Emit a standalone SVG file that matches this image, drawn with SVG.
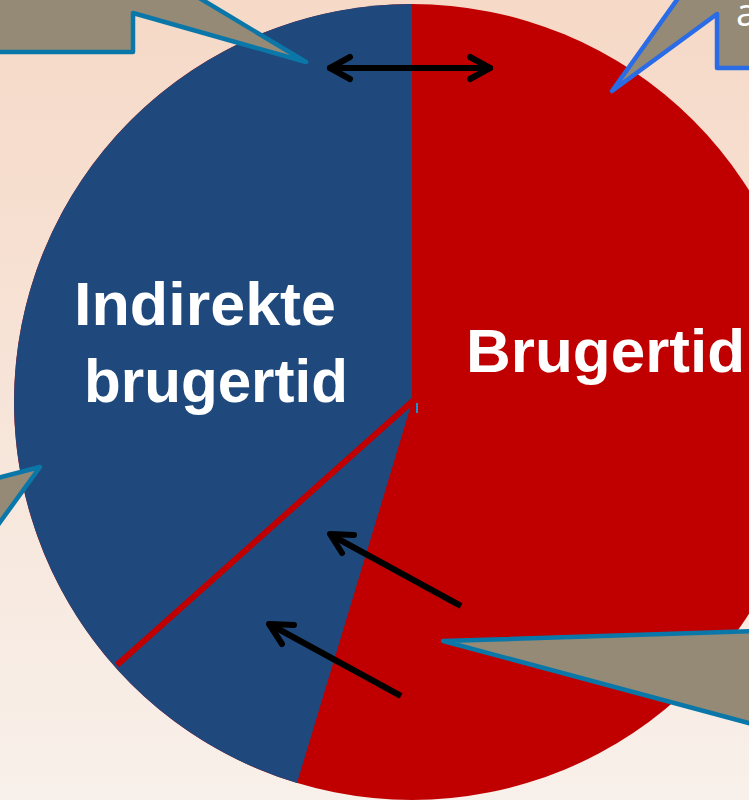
<svg xmlns="http://www.w3.org/2000/svg" width="749" height="800" viewBox="0 0 749 800">
<defs>
<linearGradient id="bg" x1="0" y1="0" x2="0" y2="1">
<stop offset="0" stop-color="#f6d9c7"/>
<stop offset="1" stop-color="#f8f0ea"/>
</linearGradient>
</defs>
<style>
.lbl{font-family:"Liberation Sans",Arial,sans-serif;font-weight:bold;fill:#ffffff}
.call{fill:#948a76;stroke:#0a77a8;stroke-width:4.5;stroke-linejoin:round}
.arr{fill:none;stroke:#000000;stroke-width:6;stroke-linecap:round;stroke-linejoin:round}
</style>
<rect x="0" y="0" width="749" height="800" fill="url(#bg)"/>
<g id="pie">
<circle cx="412" cy="402" r="398" fill="#c00000"/>
<path d="M412,402 L412,4 A398,398 0 0 0 297,783 Z" fill="#1f497d"/>
<line x1="415" y1="399" x2="117" y2="665" stroke="#c00000" stroke-width="6"/>
<line x1="417" y1="403" x2="417" y2="413" stroke="#2090d0" stroke-width="2"/>
</g>
<g id="label-indirekte">
<text class="lbl" font-size="61" x="74" y="325" textLength="262" lengthAdjust="spacingAndGlyphs">Indirekte</text>
<text class="lbl" font-size="61" x="84" y="402" textLength="264" lengthAdjust="spacingAndGlyphs">brugertid</text>
</g>
<g id="label-brugertid">
<text class="lbl" font-size="62" x="466" y="372" textLength="279" lengthAdjust="spacingAndGlyphs">Brugertid</text>
</g>
<g id="callout-top-left">
<polygon class="call" points="-10,-10 186,-10 306,62 133,13 133,52 -10,52"/>
</g>
<g id="callout-top-right">
<polygon class="call" style="stroke:#2a6be6" points="684,-10 760,-10 760,68 717,68 717,14 612,91"/>
<text x="736" y="26" font-family="'Open Sans','Liberation Sans',sans-serif" font-size="38" fill="#ffffff">a</text>
</g>
<g id="callout-left">
<polygon class="call" points="-10,480 40,467 -10,536"/>
</g>
<g id="callout-bottom-right">
<polygon class="call" points="760,631 443,641 760,726"/>
</g>
<g id="connectors">
<line class="arr" x1="330" y1="68" x2="490" y2="68" stroke-width="5"/>
<polyline class="arr" stroke-width="5" points="350,57 330,68 350,79"/>
<polyline class="arr" stroke-width="5" points="470,57 490,68 470,79"/>
<line class="arr" style="stroke-linecap:butt" x1="461" y1="606" x2="331" y2="535"/>
<polyline class="arr" points="354,535 330,534 342,553"/>
<line class="arr" style="stroke-linecap:butt" x1="401" y1="696" x2="271" y2="625"/>
<polyline class="arr" points="294,625 269,624 282,644"/>
</g>
</svg>
